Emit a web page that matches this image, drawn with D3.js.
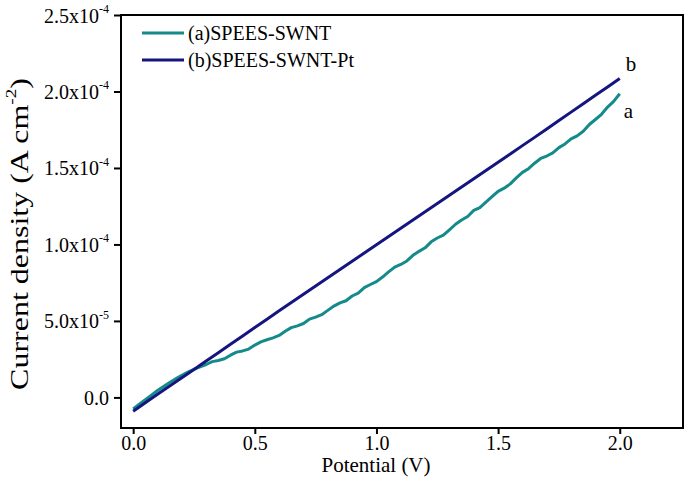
<!DOCTYPE html>
<html><head><meta charset="utf-8">
<script src="https://cdn.jsdelivr.net/npm/d3@7"></script>
<style>body{margin:0;background:#fff}svg{display:block}</style>
</head><body><svg id="c" width="685" height="492"></svg>
<script>
// Potential (V) for series a (SPEES-SWNT)
const potentialA = [0.000,0.025,0.050,0.075,0.100,0.125,0.150,0.175,0.200,0.225,0.250,0.275,0.300,0.325,0.350,0.375,0.400,0.425,0.450,0.475,0.500,0.525,0.550,0.575,0.600,0.625,0.650,0.675,0.700,0.725,0.750,0.775,0.800,0.825,0.850,0.875,0.900,0.925,0.950,0.975,1.000,1.025,1.050,1.075,1.100,1.125,1.150,1.175,1.200,1.225,1.250,1.275,1.300,1.325,1.350,1.375,1.400,1.425,1.450,1.475,1.500,1.525,1.550,1.575,1.600,1.625,1.650,1.675,1.700,1.725,1.750,1.775,1.800,1.825,1.850,1.875,1.900,1.925,1.950,1.975,2.000];
// Current density series a, in units of 1e-5 A cm^-2
const currentA = [-0.75,-0.45,-0.15,0.15,0.45,0.72,0.98,1.22,1.45,1.65,1.84,2.00,2.15,2.34,2.41,2.53,2.76,2.96,3.04,3.16,3.42,3.63,3.77,3.89,4.05,4.32,4.56,4.68,4.83,5.12,5.25,5.41,5.69,5.97,6.18,6.32,6.63,6.82,7.18,7.38,7.57,7.87,8.21,8.52,8.69,8.92,9.29,9.55,9.78,10.17,10.42,10.61,10.96,11.32,11.60,11.83,12.23,12.41,12.76,13.12,13.47,13.68,13.96,14.35,14.71,14.95,15.31,15.62,15.78,15.99,16.33,16.57,16.90,17.10,17.40,17.84,18.17,18.51,18.98,19.35,19.85];
// Potential (V) for series b (SPEES-SWNT-Pt)
const potentialB = [0.00,0.05,0.10,0.15,0.20,0.25,0.30,0.35,0.40,0.45,0.50,0.55,0.60,0.65,0.70,0.75,0.80,0.85,0.90,0.95,1.00,1.05,1.10,1.15,1.20,1.25,1.30,1.35,1.40,1.45,1.50,1.55,1.60,1.65,1.70,1.75,1.80,1.85,1.90,1.95,2.00];
// Current density series b, in units of 1e-5 A cm^-2
const currentB = [-0.90,-0.35,0.20,0.74,1.28,1.83,2.38,2.92,3.47,4.02,4.57,5.11,5.66,6.20,6.74,7.28,7.82,8.36,8.90,9.44,9.98,10.52,11.06,11.60,12.14,12.68,13.22,13.76,14.30,14.84,15.38,15.92,16.46,17.00,17.55,18.10,18.65,19.20,19.75,20.30,20.85];
const seriesNames = ["(a)SPEES-SWNT","(b)SPEES-SWNT-Pt"];
const curveLabels = ["a","b"];
const seriesColors = ["#148a8a","#151580"];
const xTicks = [0.0,0.5,1.0,1.5,2.0];
const yTicks = [0,5e-5,1e-4,1.5e-4,2e-4,2.5e-4];
const yMant = ["0.0","5.0","1.0","1.5","2.0","2.5"];
const yExp = ["","-5","-4","-4","-4","-4"];

const FONT = "'Liberation Serif','Times New Roman',serif";
const svg = d3.select("#c").style("font-family",FONT);
const L=121, R=683, T=15, B=428;
const x = d3.scaleLinear().domain([-0.05,2.26]).range([L,R]);
const y = d3.scaleLinear().domain([-2.0e-5,2.5e-4]).range([B,T]);

// frame
svg.append("rect").attr("x",L).attr("y",T).attr("width",R-L).attr("height",B-T)
  .attr("fill","none").attr("stroke","#000").attr("stroke-width",2);

// x axis
const xa = svg.append("g").attr("transform",`translate(0,${B})`)
  .call(d3.axisBottom(x).tickValues(xTicks).tickFormat(d3.format(".1f")).tickSize(6).tickPadding(2).tickSizeOuter(0));
xa.attr("font-family",FONT);
xa.select(".domain").remove();
xa.selectAll("line").attr("stroke","#000").attr("stroke-width",2);
xa.selectAll("text").attr("font-size",20).attr("fill","#000");

// y axis
const ya = svg.append("g").attr("transform",`translate(${L},0)`)
  .call(d3.axisLeft(y).tickValues(yTicks).tickFormat("").tickSize(7).tickSizeOuter(0));
ya.attr("font-family",FONT);
ya.select(".domain").remove();
ya.selectAll("line").attr("stroke","#000").attr("stroke-width",2);
ya.selectAll(".tick").each(function(d,i){
  const t = d3.select(this).append("text").attr("x",-12).attr("dy","0.35em")
    .attr("text-anchor","end").attr("font-size",20).attr("fill","#000");
  if(yExp[i]===""){ t.text(yMant[i]); }
  else {
    t.append("tspan").text(yMant[i]+"x10");
    t.append("tspan").text(yExp[i]).attr("font-size",12).attr("dy","-0.8em");
  }
});

// lines
const line = d3.line().x(d=>x(d[0])).y(d=>y(d[1]*1e-5));
const dataA = potentialA.map((v,i)=>[v,currentA[i]]);
const dataB = potentialB.map((v,i)=>[v,currentB[i]]);
svg.append("path").datum(dataA).attr("d",line).attr("fill","none")
  .attr("stroke",seriesColors[0]).attr("stroke-width",3).attr("stroke-linejoin","round");
svg.append("path").datum(dataB).attr("d",line).attr("fill","none")
  .attr("stroke",seriesColors[1]).attr("stroke-width",3).attr("stroke-linejoin","round");

// curve labels
svg.append("text").attr("x",x(2.0)+6).attr("y",y(currentB[currentB.length-1]*1e-5)-7).attr("font-size",21).text(curveLabels[1]);
svg.append("text").attr("x",x(2.0)+4).attr("y",y(currentA[currentA.length-1]*1e-5)+24).attr("font-size",21).text(curveLabels[0]);

// legend
seriesNames.forEach((n,i)=>{
  const yy = 33 + i*27;
  svg.append("line").attr("x1",142).attr("x2",184).attr("y1",yy).attr("y2",yy)
    .attr("stroke",seriesColors[i]).attr("stroke-width",3);
  svg.append("text").attr("x",188).attr("y",yy).attr("dy","0.35em").attr("font-size",20).text(n);
});

// axis titles
svg.append("text").attr("x",376).attr("y",472).attr("text-anchor","middle").attr("font-size",21).text("Potential (V)");
const yl = svg.append("text").attr("transform","translate(28,234) rotate(-90) scale(1.28,1)").attr("text-anchor","middle").attr("font-size",25);
yl.append("tspan").text("Current density (A cm");
yl.append("tspan").text("-2").attr("font-size",15).attr("dy","-0.8em");
yl.append("tspan").text(")").attr("font-size",25).attr("dy","0.48em");
</script></body></html>
